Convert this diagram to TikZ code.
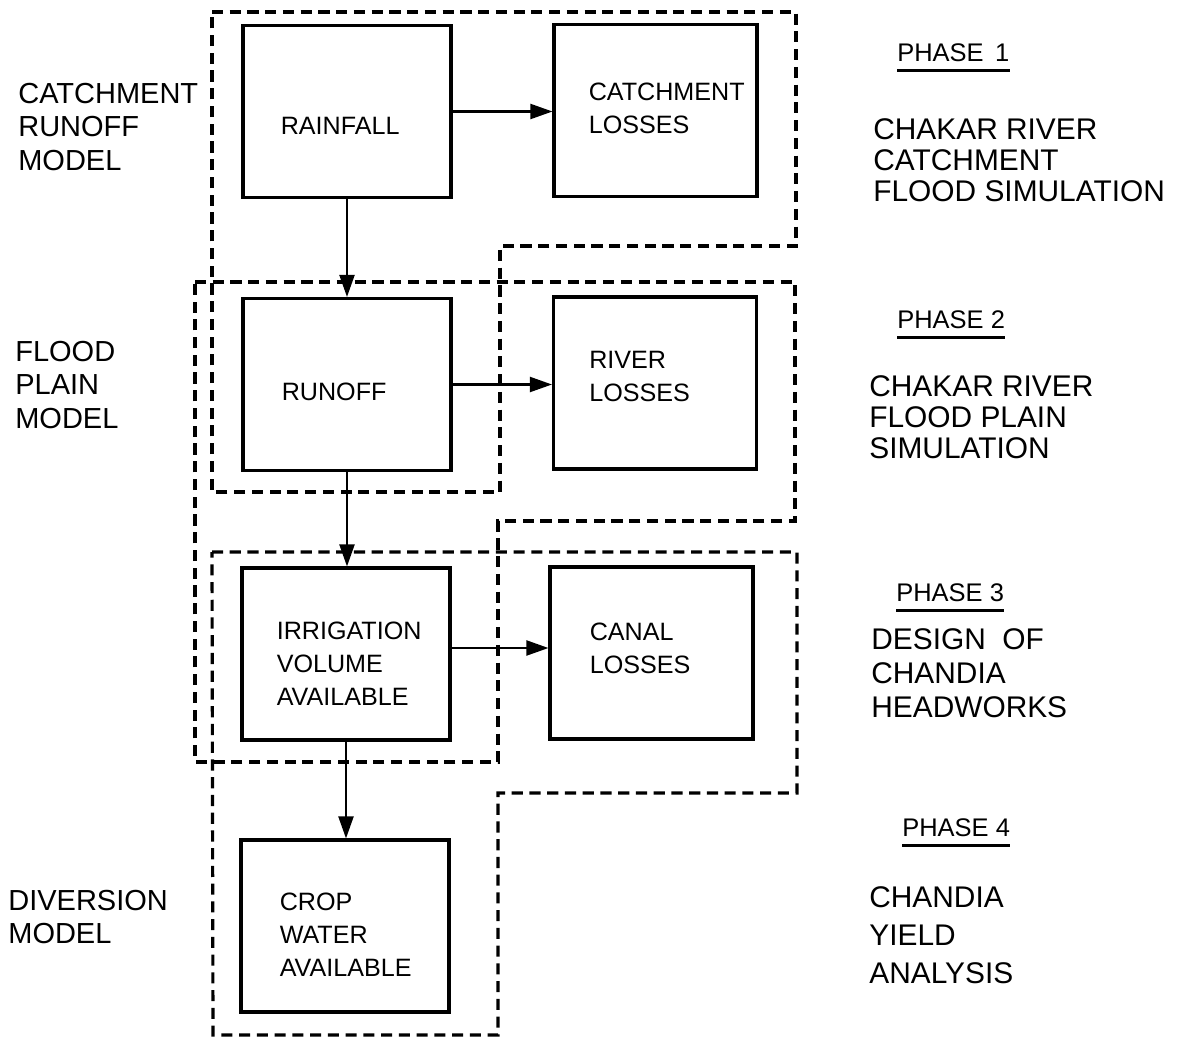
\documentclass[tikz,border=0pt]{standalone}
\usepackage{fontspec}
\setmainfont{Liberation Sans}
\usetikzlibrary{arrows.meta, positioning}
\tikzset{>={Triangle[length=0.44cm,width=0.3cm]}}

\begin{document}
\begin{tikzpicture}[x=0.02cm, y=-0.02cm,
    procbox/.style={draw, line width=1.8pt, minimum width=4.16cm, minimum height=3.44cm, inner sep=0pt},
    lossbox/.style={procbox, minimum width=4.06cm},
    boxtext/.style={align=left, inner sep=0pt, font=\fontsize{14.3}{18.8}\selectfont},
    modeltext/.style={align=left, inner sep=0pt, font=\fontsize{16.5}{18.8}\selectfont},
    phasetext/.style={inner sep=0pt, font=\fontsize{14.5}{17}\selectfont},
    phaseline/.style={line width=1.5pt},
    flow/.style={->, line width=1.2pt},
    zone/.style={line width=1.8pt, dash pattern=on 6.3pt off 3.8pt}]

        \useasboundingbox (0,0) rectangle (1188,1041);

        % Process boxes
        \node[procbox] (rain)   at (347,111.5) {};
        \node[lossbox] (catch)  at (655.5,110.5) {};
        \node[procbox] (runoff) at (347,384.5) {};
        \node[lossbox] (river)  at (655,383) {};
        \node[procbox] (irrig)  at (346,654) {};
        \node[lossbox] (canal)  at (651.5,653) {};
        \node[procbox] (crop)   at (345,926) {};

        % Box texts
        \node[boxtext, right=0.78cm of rain.west, yshift=-0.28cm] (rain-t) {RAINFALL};
        \node[boxtext, right=0.72cm of catch.west, yshift=0.04cm] (catch-t) {CATCHMENT\\LOSSES};
        \node[boxtext, right=0.80cm of runoff.west, yshift=-0.15cm] (runoff-t) {RUNOFF};
        \node[boxtext, right=0.74cm of river.west, yshift=0.14cm] (river-t) {RIVER\\LOSSES};
        \node[boxtext, right=0.72cm of irrig.west, yshift=-0.2cm] (irrig-t) {IRRIGATION\\VOLUME\\AVAILABLE};
        \node[boxtext, right=0.82cm of canal.west, yshift=0.1cm] (canal-t) {CANAL\\LOSSES};
        \node[boxtext, right=0.80cm of crop.west, yshift=-0.18cm] (crop-t) {CROP\\WATER\\AVAILABLE};

        % Flows
        \draw[flow] (rain.east) -- (rain.east -| catch.west);
        \draw[flow] (runoff.east) -- (runoff.east -| river.west);
        \draw[flow] ([yshift=0.12cm]irrig.east) -- ([yshift=0.12cm]irrig.east -| canal.west);
        \draw[flow] (rain.south) -- (runoff.north);
        \draw[flow] (runoff.south) -- (runoff.south |- irrig.north);
        \draw[flow] (irrig.south) -- (irrig.south |- crop.north);

        % Phase outlines
        \draw[zone] (212,12) -- (796,12) -- (796,246) -- (500,246) -- (500,492) -- (212,492) -- cycle;
        \draw[zone] (195,282) -- (795,282) -- (795,521) -- (498,521) -- (498,762) -- (195,762) -- cycle;
        \draw[zone] (212,552) -- (797,552) -- (797,793) -- (498,793) -- (498,1035) -- (213,1035) -- cycle;

        % Model labels
        \node[modeltext, anchor=west] (catchmodel) at (18,127) {CATCHMENT\\RUNOFF\\MODEL};
        \node[modeltext, anchor=west] (floodmodel) at (15,385) {FLOOD\\PLAIN\\MODEL};
        \node[modeltext, anchor=west] (divmodel)   at (8,917) {DIVERSION\\MODEL};

        % Phases
        \node[phasetext, anchor=west] (ph1) at (897,53)  {PHASE\ \,1};
        \node[phasetext, anchor=west] (ph2) at (897,320) {PHASE 2};
        \node[phasetext, anchor=west] (ph3) at (896,593) {PHASE 3};
        \node[phasetext, anchor=west] (ph4) at (902,828) {PHASE 4};
        \foreach \ph in {ph1, ph2, ph3, ph4}{
          \draw[phaseline] ([yshift=-0.16cm]\ph.south west) -- ([yshift=-0.16cm]\ph.south east);
        }

        \node[modeltext, anchor=west, font=\fontsize{17}{17.6}\selectfont] (ph1-d) at (873,160) {CHAKAR\ RIVER\\CATCHMENT\\FLOOD SIMULATION};
        \node[modeltext, anchor=west, font=\fontsize{17}{17.8}\selectfont] (ph2-d) at (869,417) {CHAKAR RIVER\\FLOOD PLAIN\\SIMULATION};
        \node[modeltext, anchor=west, font=\fontsize{17}{19.2}\selectfont] (ph3-d) at (871,673) {DESIGN\ \ OF\\CHANDIA\\HEADWORKS};
        \node[modeltext, anchor=west, font=\fontsize{17}{21.5}\selectfont] (ph4-d) at (869,935) {CHANDIA\\YIELD\\ANALYSIS};
      \end{tikzpicture}
\end{document}
